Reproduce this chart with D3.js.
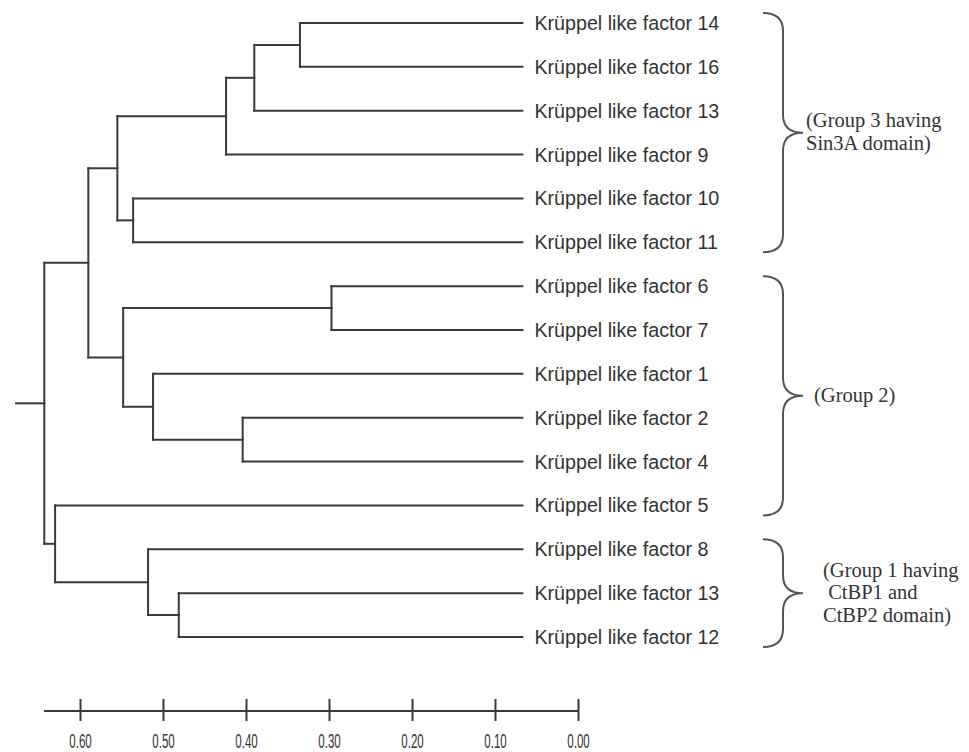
<!DOCTYPE html>
<html>
<head>
<meta charset="utf-8">
<script src="https://cdnjs.cloudflare.com/ajax/libs/d3/7.8.5/d3.min.js"></script>
<style>
  body { margin: 0; background: #fff; }
  #chart svg { display: block; }
</style>
</head>
<body>
<div id="chart"></div>
<script>
/* leaves of the dendrogram, top to bottom */
var leafIds = ["K14", "K16", "K13", "K9", "K10", "K11", "K6", "K7", "K1", "K2", "K4", "K5", "K8", "K13b", "K12"];
var leafLabels = ["Krüppel like factor 14", "Krüppel like factor 16", "Krüppel like factor 13",
    "Krüppel like factor 9", "Krüppel like factor 10", "Krüppel like factor 11",
    "Krüppel like factor 6", "Krüppel like factor 7", "Krüppel like factor 1",
    "Krüppel like factor 2", "Krüppel like factor 4", "Krüppel like factor 5",
    "Krüppel like factor 8", "Krüppel like factor 13", "Krüppel like factor 12"];

var merges = [
    ["A", "K14", "K16", 0.335],
    ["B", "A", "K13", 0.390],
    ["C", "B", "K9", 0.424],
    ["D", "K10", "K11", 0.536],
    ["E", "C", "D", 0.555],
    ["N67", "K6", "K7", 0.297],
    ["N24", "K2", "K4", 0.404],
    ["N124", "K1", "N24", 0.512],
    ["G2", "N67", "N124", 0.548],
    ["F", "E", "G2", 0.590],
    ["N1312", "K13b", "K12", 0.481],
    ["I", "K8", "N1312", 0.518],
    ["H", "K5", "I", 0.630],
    ["root", "F", "H", 0.643]
];
var leafTip = 0.067;   // where the leaf branches end on the scale
var rootStub = 0.677;  // left end of the root branch

// scale bar
var tickValues = [0.60, 0.50, 0.40, 0.30, 0.20, 0.10, 0.00];

// brackets on the right
var groupFirst = ["K14", "K6", "K8"];
var groupLast = ["K11", "K5", "K12"];
var groupText = [
    ["(Group 3 having", "Sin3A domain)"],
    ["(Group 2)"],
    ["(Group 1 having", " CtBP1 and", "CtBP2 domain)"]
];

function main() {

    var width = 969,
        height = 752;

    var svg = d3.select("#chart").append("svg")
        .attr("width", width)
        .attr("height", height);

    var ink = "#3a3a3a";

    /* scales */
    var x = d3.scaleLinear().domain([0.60, 0.00]).range([80, 578]);
    var y = d3.scalePoint().domain(leafIds).range([23, 637]);

    /* build the node table from the merges */
    var nodes = {};
    leafIds.forEach(function(id, i) {
        nodes[id] = { id: id, h: leafTip, y: y(id), label: leafLabels[i] };
    });
    merges.forEach(function(m) {
        var a = nodes[m[1]], b = nodes[m[2]];
        nodes[m[0]] = { id: m[0], h: m[3], kids: [a, b], y: (a.y + b.y) / 2 };
    });

    var gTree = svg.append("g")
        .attr("fill", "none")
        .attr("stroke", ink)
        .attr("stroke-width", 2)
        .attr("stroke-linecap", "square");

    // elbows: one vertical per merge, one horizontal per child
    var segs = [];
    merges.forEach(function(m) {
        var n = nodes[m[0]];
        segs.push([x(n.h), n.kids[0].y, x(n.h), n.kids[1].y]);
        n.kids.forEach(function(k) {
            segs.push([x(n.h), k.y, x(k.h), k.y]);
        });
    });
    segs.push([x(rootStub), nodes.root.y, x(nodes.root.h), nodes.root.y]);

    gTree.selectAll("line")
        .data(segs)
        .enter().append("line")
        .attr("x1", function(d) { return d[0]; })
        .attr("y1", function(d) { return d[1]; })
        .attr("x2", function(d) { return d[2]; })
        .attr("y2", function(d) { return d[3]; });

    /* leaf labels */
    svg.append("g").selectAll("text")
        .data(leafIds)
        .enter().append("text")
        .attr("x", x(leafTip) + 12)
        .attr("y", function(d) { return y(d) + 7; })
        .attr("font-family", "'Liberation Sans', Arial, sans-serif")
        .attr("font-size", "19.7px")
        .attr("fill", "#333")
        .text(function(d) { return nodes[d].label; });

    /* scale bar at the bottom */
    var axis = d3.axisBottom(x)
        .tickValues(tickValues)
        .tickSize(0)
        .tickFormat(d3.format(".2f"));

    var gAxis = svg.append("g")
        .attr("transform", "translate(0,711)")
        .call(axis);
    gAxis.select(".domain").remove();
    gAxis.append("line")
        .attr("x1", x(rootStub) + 28)
        .attr("x2", x(0))
        .attr("stroke", ink)
        .attr("stroke-width", 2);
    gAxis.selectAll(".tick").append("line")
        .attr("y1", -12)
        .attr("y2", 10)
        .attr("stroke", ink)
        .attr("stroke-width", 2);
    // labels are drawn tall and narrow
    gAxis.selectAll(".tick text")
        .attr("y", 0)
        .attr("dy", 0)
        .attr("transform", "translate(0,37) scale(0.55,1)")
        .attr("font-family", "'Liberation Sans', Arial, sans-serif")
        .attr("font-size", "21px")
        .attr("fill", "#333");

    /* curly brackets with group names */
    var bx0 = 763, bx1 = 783, bxt = 803, r = 18;
    groupFirst.forEach(function(first, i) {
        var top = y(first) - 10,
            bottom = y(groupLast[i]) + 10,
            mid = (top + bottom) / 2;

        var p = d3.path();
        p.moveTo(bx0, top);
        p.quadraticCurveTo(bx1, top, bx1, top + r);
        p.lineTo(bx1, mid - r);
        p.quadraticCurveTo(bx1, mid, bxt, mid);
        p.quadraticCurveTo(bx1, mid, bx1, mid + r);
        p.lineTo(bx1, bottom - r);
        p.quadraticCurveTo(bx1, bottom, bx0, bottom);

        svg.append("path")
            .attr("d", p.toString())
            .attr("fill", "none")
            .attr("stroke", "#555")
            .attr("stroke-width", 2);

        var lines = groupText[i];
        var lh = 22.5;
        var tx = bxt + 3 + (lines.length === 1 ? 8 : lines.length === 3 ? 17 : 0);
        svg.append("g").selectAll("text")
            .data(lines)
            .enter().append("text")
            .attr("x", tx)
            .attr("y", function(d, j) { return mid - (lines.length - 1) * lh / 2 + 6 + j * lh; })
            .attr("font-family", "'Liberation Serif', 'Times New Roman', serif")
            .attr("font-size", "20.5px")
            .attr("fill", "#333")
            .attr("xml:space", "preserve")
            .text(function(d) { return d; });
    });
}

main();
</script>
</body>
</html>
